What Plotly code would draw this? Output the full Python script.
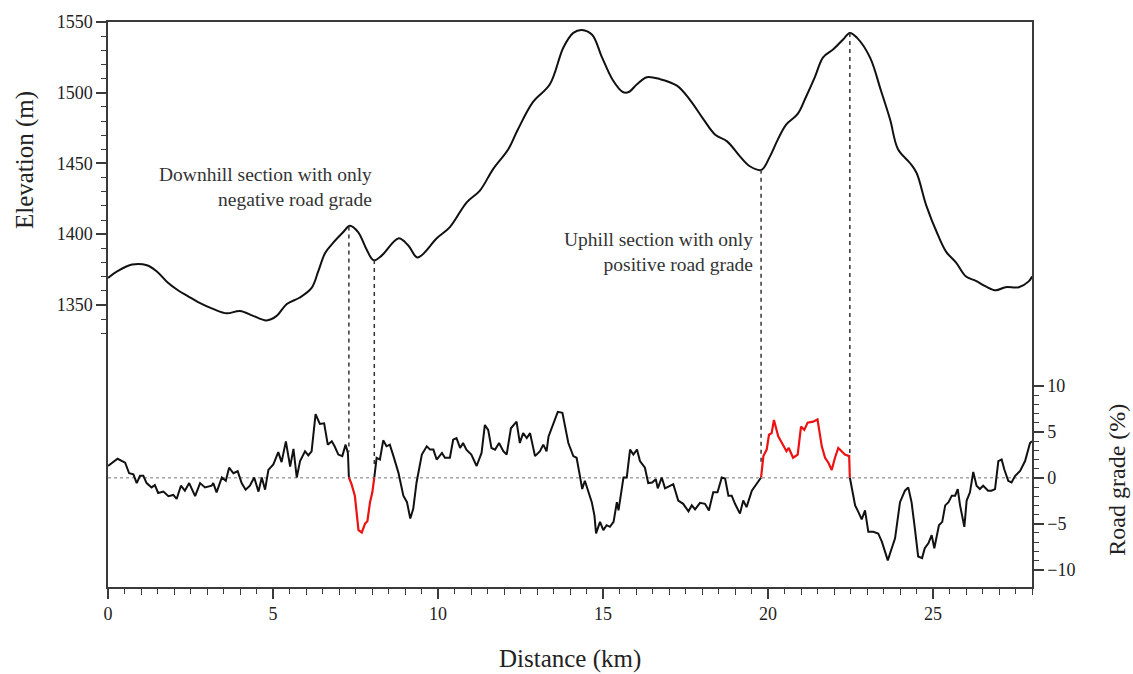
import numpy as np
import plotly.graph_objects as go

# Elevation profile (km, m)
elev_km = [0.0, 0.3, 0.73, 1.18, 1.48, 1.8, 2.12, 2.43, 2.73, 3.2, 3.6, 4.0, 4.4, 4.8, 5.1,
           5.42, 5.8, 6.17, 6.37, 6.58, 6.82, 7.13, 7.33, 7.58, 7.84, 8.05, 8.3, 8.8, 9.1,
           9.38, 9.97, 10.36, 10.87, 11.27, 11.67, 12.13, 12.42, 12.88, 13.39, 13.8, 14.1,
           14.36, 14.67, 14.97, 15.3, 15.6, 15.78, 16.03, 16.33, 16.73, 17.24, 17.64, 18.03,
           18.4, 18.76, 19.15, 19.45, 19.8, 20.06, 20.3, 20.55, 20.9, 21.15, 21.42, 21.67,
           21.97, 22.27, 22.48, 22.7, 23.09, 23.42, 23.7, 23.94, 24.3, 24.5, 24.8, 25.15,
           25.4, 25.7, 26.0, 26.3, 26.6, 26.9, 27.2, 27.6, 27.9, 28.0]
elev_m = [1369, 1374, 1378.5, 1378, 1373.6, 1366, 1360.3, 1356, 1352, 1347, 1344, 1345.7,
          1342.2, 1339, 1342, 1350.6, 1355, 1362, 1373.6, 1386.7, 1393.8, 1401.5, 1406, 1401.5,
          1389, 1381.5, 1385, 1397, 1392, 1383.5, 1397.3, 1405, 1422.5, 1430.8, 1446, 1460,
          1474, 1493.5, 1506, 1532, 1542.3, 1544.4, 1541, 1525, 1508.8, 1500.5, 1500.5, 1506,
          1511, 1509.6, 1505, 1494.8, 1481.7, 1470.3, 1465.6, 1455, 1448, 1445.4, 1455, 1467,
          1477.5, 1485, 1497, 1511, 1525, 1530.5, 1537.5, 1542.3, 1538.8, 1525, 1501.7, 1481,
          1460, 1450.3, 1443.4, 1420, 1399.4, 1387.5, 1379.8, 1370, 1367, 1363, 1360.3,
          1362.5, 1362.5, 1366.6, 1370]

# Road grade (km, %)
grade_km = [0.0, 0.06, 0.29, 0.52, 0.64, 0.77, 0.87, 0.97, 1.07, 1.17, 1.32, 1.42, 1.52, 1.68,
            1.83, 1.98, 2.08, 2.21, 2.33, 2.46, 2.64, 2.79, 2.94, 3.14, 3.19, 3.29, 3.45, 3.57,
            3.67, 3.8, 3.93, 4.05, 4.17, 4.3, 4.43, 4.56, 4.66, 4.76, 4.86, 5.01, 5.16, 5.26,
            5.39, 5.52, 5.62, 5.72, 5.82, 5.97, 6.07, 6.17, 6.29, 6.42, 6.55, 6.66, 6.78, 6.86,
            6.98, 7.1, 7.2, 7.27, 7.3, 7.38, 7.48, 7.59, 7.69, 7.79, 7.86, 7.94, 8.01, 8.07,
            8.14, 8.24, 8.34, 8.44, 8.54, 8.65, 8.8, 8.95, 9.06, 9.16, 9.25, 9.35, 9.51, 9.66,
            9.76, 9.86, 9.96, 10.12, 10.21, 10.36, 10.46, 10.56, 10.67, 10.76, 10.86, 11.01,
            11.17, 11.32, 11.42, 11.52, 11.62, 11.73, 11.85, 11.98, 12.08, 12.21, 12.38, 12.48,
            12.58, 12.69, 12.79, 12.94, 13.09, 13.19, 13.29, 13.35, 13.49, 13.63, 13.77, 13.88,
            13.95, 14.1, 14.2, 14.3, 14.37, 14.45, 14.56, 14.66, 14.74, 14.79, 14.91, 15.01,
            15.11, 15.21, 15.32, 15.42, 15.47, 15.62, 15.72, 15.82, 15.92, 16.03, 16.12, 16.27,
            16.37, 16.49, 16.6, 16.66, 16.78, 16.88, 17.0, 17.13, 17.28, 17.43, 17.59, 17.69,
            17.79, 17.94, 18.09, 18.21, 18.34, 18.47, 18.6, 18.7, 18.8, 18.9, 19.0, 19.15,
            19.25, 19.35, 19.51, 19.66, 19.79, 19.86, 19.96, 20.03, 20.11, 20.18, 20.31, 20.46,
            20.56, 20.63, 20.76, 20.9, 21.0, 21.1, 21.2, 21.37, 21.5, 21.63, 21.73, 21.83,
            21.93, 22.03, 22.13, 22.23, 22.33, 22.46, 22.48, 22.56, 22.64, 22.74, 22.84, 22.94,
            23.04, 23.19, 23.34, 23.45, 23.55, 23.63, 23.75, 23.85, 24.0, 24.15, 24.25, 24.35,
            24.45, 24.55, 24.67, 24.75, 24.86, 24.96, 25.04, 25.18, 25.28, 25.37, 25.47, 25.57,
            25.67, 25.75, 25.82, 25.95, 26.02, 26.12, 26.22, 26.32, 26.42, 26.52, 26.67, 26.77,
            26.88, 26.98, 27.08, 27.16, 27.28, 27.38, 27.49, 27.64, 27.79, 27.94, 28.0]
grade_pct = [1.3, 1.47, 2.08, 1.65, 0.5, 0.39, -0.57, 0.22, 0.22, -0.57, -1.04, -0.79, -1.65, -1.5,
             -2.0, -1.86, -2.3, -0.86, -1.4, -0.57, -2.0, -0.57, -1.04, -0.86, -0.57, -1.58, 0.04,
             -0.32, 1.11, 0.5, 0.72, -0.57, -1.29, -0.86, 0.04, -1.5, 0.04, -1.29, 0.86, 1.47, 2.8,
             1.72, 3.98, 1.22, 3.15, 0.04, 1.83, 2.9, 2.44, 2.9, 6.95, 5.88, 5.95, 3.62, 3.98, 3.5,
             2.54, 2.37, 3.62, 2.72, 0.04, -0.68, -1.94, -5.7, -5.95, -4.98, -4.73, -2.65, -1.58,
             0.04, 2.19, 2.0, 4.09, 3.44, 3.62, 2.37, 0.57, -1.94, -2.65, -4.44, -3.37, -0.5, 2.54,
             3.44, 3.08, 3.08, 2.0, 2.72, 2.19, 2.19, 4.16, 4.34, 3.26, 3.8, 3.08, 2.54, 1.29, 2.72,
             5.77, 5.23, 3.26, 3.08, 3.8, 2.9, 2.54, 5.41, 6.13, 3.8, 4.87, 4.34, 4.87, 2.37, 2.9,
             3.62, 2.9, 4.52, 5.77, 7.2, 7.1, 5.2, 3.8, 2.37, 2.19, 0.22, -1.22, -0.32, -1.58,
             -2.65, -4.09, -6.06, -4.8, -5.7, -5.16, -5.34, -4.8, -2.65, -3.55, 0.04, 0.04, 3.08,
             2.54, 3.08, 1.83, 1.11, -0.57, -0.5, -0.14, -1.15, 0.04, -1.15, -0.93, -0.68, -2.47,
             -2.83, -3.66, -3.0, -3.44, -2.72, -2.83, -3.55, -1.58, -1.58, 0.04, -0.07, -1.94,
             -1.94, -2.83, -3.9, -2.47, -3.19, -1.4, -0.68, 0.04, 2.37, 3.08, 4.7, 4.87, 6.31,
             4.52, 3.62, 2.9, 3.26, 2.19, 2.54, 5.59, 5.23, 6.02, 6.13, 6.38, 3.44, 2.19, 1.65,
             0.86, 2.19, 3.26, 2.9, 2.54, 2.37, 0.04, -1.58, -3.0, -3.73, -4.52, -3.55, -5.88,
             -5.88, -6.06, -6.95, -8.03, -9.0, -7.67, -6.6, -2.65, -1.4, -1.04, -2.65, -5.52,
             -8.57, -8.75, -7.67, -7.13, -6.24, -7.67, -5.16, -4.8, -3.0, -2.65, -1.94, -1.94,
             -1.22, -3.0, -5.34, -2.47, -1.58, 0.65, -0.86, -1.22, -0.86, -1.4, -1.4, -1.22, 1.83,
             2.0, 0.93, -0.32, -0.5, 0.22, 0.75, 1.83, 3.8, 4.0]

# Sections with single-signed grade (start km, end km)
sections = [(7.3, 8.07), (19.79, 22.48)]

ELEV_RANGE = [1150.5, 1550]
GRADE_RANGE = [-11.9, 49.7]

FONT = "Liberation Serif"
AXIS_COLOR = "#3a3a3a"

gk = np.array(grade_km)
gv = np.array(grade_pct)
inside_closed = np.zeros_like(gk, dtype=bool)
inside_open = np.zeros_like(gk, dtype=bool)
for a, b in sections:
    inside_closed |= (gk >= a) & (gk <= b)
    inside_open |= (gk > a) & (gk < b)

black_y = np.where(inside_open, np.nan, gv)
red_y = np.where(inside_closed, gv, np.nan)


def elev_to_grade_axis(e):
    f = (e - ELEV_RANGE[0]) / (ELEV_RANGE[1] - ELEV_RANGE[0])
    return GRADE_RANGE[0] + f * (GRADE_RANGE[1] - GRADE_RANGE[0])


fig = go.Figure()

# zero-grade reference
fig.add_trace(go.Scatter(x=[0, 28], y=[0, 0], yaxis="y2", mode="lines",
                         line=dict(color="#777777", width=1, dash="dot"),
                         hoverinfo="skip", showlegend=False))

# dashed markers linking section ends on both curves
for a, b in sections:
    for xk in (a, b):
        top = elev_to_grade_axis(float(np.interp(xk, elev_km, elev_m)))
        bot = max(float(np.interp(xk - 0.04, gk, gv)), float(np.interp(xk + 0.04, gk, gv)))
        fig.add_trace(go.Scatter(x=[xk, xk], y=[top, bot], yaxis="y2", mode="lines",
                                 line=dict(color="#333333", width=1.5, dash="4px,4px"),
                                 hoverinfo="skip", showlegend=False))

fig.add_trace(go.Scatter(x=elev_km, y=elev_m, mode="lines", line_shape="spline",
                         line=dict(color="#111111", width=2), showlegend=False))
fig.add_trace(go.Scatter(x=grade_km, y=black_y, yaxis="y2", mode="lines",
                         line=dict(color="#111111", width=2), connectgaps=False,
                         showlegend=False))
fig.add_trace(go.Scatter(x=grade_km, y=red_y, yaxis="y2", mode="lines",
                         line=dict(color="#ee1111", width=2.2), connectgaps=False,
                         showlegend=False))
# carrier for the 1-km tick axis
fig.add_trace(go.Scatter(x=[0, 28], y=[1200, 1200], xaxis="x2", mode="lines",
                         line=dict(width=0), hoverinfo="skip", showlegend=False))

tickfont = dict(family=FONT, size=18, color="#222222")

fig.update_layout(
    width=1133, height=674,
    margin=dict(l=108, r=101, t=14, b=87),
    paper_bgcolor="white", plot_bgcolor="white",
    font=dict(family=FONT, color="#222222"),
    xaxis=dict(range=[0, 28], tickvals=[0, 5, 10, 15, 20, 25], ticks="outside", ticklen=10,
               tickwidth=1.5, tickcolor=AXIS_COLOR, showline=True, linecolor=AXIS_COLOR,
               linewidth=1.5, mirror=True, showgrid=False, zeroline=False, tickfont=tickfont,
               minor=dict(tickvals=list(np.arange(0, 28.01, 0.5)), ticks="outside", ticklen=5,
                          tickwidth=1.2, tickcolor=AXIS_COLOR, showgrid=False)),
    xaxis2=dict(overlaying="x", matches="x", anchor="y", side="bottom",
                tickvals=list(range(0, 29)), ticks="outside", ticklen=7, tickwidth=1.3,
                tickcolor=AXIS_COLOR, showticklabels=False, showline=False, showgrid=False,
                zeroline=False),
    yaxis=dict(range=ELEV_RANGE, tickvals=[1350, 1400, 1450, 1500, 1550], ticks="outside",
               ticklen=10, tickwidth=1.5, tickcolor=AXIS_COLOR, showline=True,
               linecolor=AXIS_COLOR, linewidth=1.5, showgrid=False, zeroline=False,
               tickfont=tickfont,
               minor=dict(tickvals=list(range(1330, 1551, 10)), ticks="outside", ticklen=5,
                          tickwidth=1.2, tickcolor=AXIS_COLOR, showgrid=False)),
    yaxis2=dict(range=GRADE_RANGE, overlaying="y", side="right", anchor="x",
                tickvals=[-10, -5, 0, 5, 10], ticks="outside", ticklen=10, tickwidth=1.5,
                tickcolor=AXIS_COLOR, showline=True, linecolor=AXIS_COLOR, linewidth=1.5,
                showgrid=False, zeroline=False, tickfont=tickfont,
                minor=dict(tickvals=list(range(-10, 11)), ticks="outside", ticklen=5,
                           tickwidth=1.2, tickcolor=AXIS_COLOR, showgrid=False)),
)

annot_font = dict(family=FONT, size=19.5, color="#333333")
fig.add_annotation(x=8.05, y=1433, xref="x", yref="y", xanchor="right", yanchor="middle",
                   align="right", showarrow=False, font=annot_font,
                   text="Downhill section with only<br>negative road grade")
fig.add_annotation(x=19.6, y=1387.6, xref="x", yref="y", xanchor="right", yanchor="middle",
                   align="right", showarrow=False, font=annot_font,
                   text="Uphill section with only<br>positive road grade")

title_font = dict(family=FONT, size=25, color="#222222")
fig.add_annotation(x=-0.0898, y=0.7557, xref="paper", yref="paper", textangle=-90,
                   xanchor="center", yanchor="middle", showarrow=False, font=title_font,
                   text="Elevation (m)")
fig.add_annotation(x=(1117 - 108) / 924, y=0.190, xref="paper", yref="paper", textangle=-90,
                   xanchor="center", yanchor="middle", showarrow=False,
                   font=dict(family=FONT, size=24, color="#222222"),
                   text="Road grade (%)")
fig.add_annotation(x=0.5, y=-0.127, xref="paper", yref="paper",
                   xanchor="center", yanchor="middle", showarrow=False, font=title_font,
                   text="Distance (km)")

fig.write_html("out.html")
